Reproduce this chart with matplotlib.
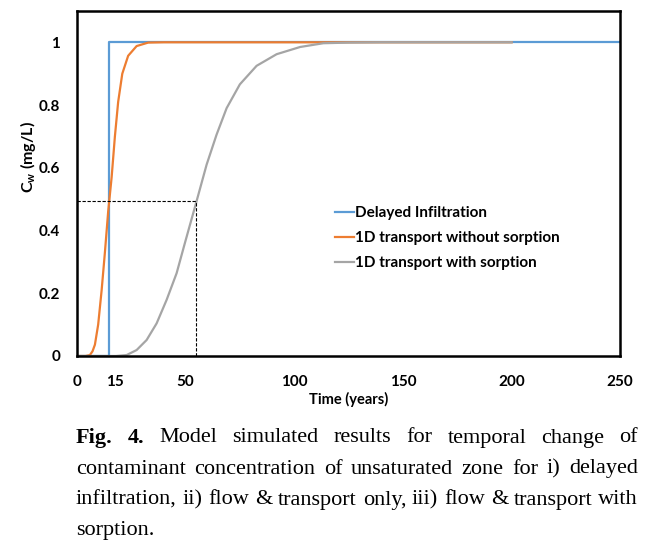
import matplotlib
matplotlib.use("Agg")
import matplotlib.pyplot as plt
import matplotlib.transforms as mtransforms

# Delayed infiltration (step at 15 years)
t_delay = [0, 15, 15, 250]
c_delay = [0, 0, 1, 1]

# 1D transport without sorption
t_nosorp = [0, 4, 6, 7.2, 8.3, 9.8, 11.4, 12.9, 14.4, 16.0, 17.5, 19.0, 20.9,
            23.6, 27.5, 32.8, 40, 200]
c_nosorp = [0, 0, 0.003, 0.015, 0.036, 0.10, 0.21, 0.33, 0.46, 0.57, 0.70,
            0.81, 0.90, 0.957, 0.988, 0.999, 1, 1]

# 1D transport with sorption
t_sorp = [0, 18, 22.9, 27.5, 32.1, 36.7, 41.3, 45.9, 49.7, 55.1, 59.7, 64.3,
          68.9, 75.0, 82.7, 91.9, 102.7, 113.4, 125, 140, 200]
c_sorp = [0, 0, 0.003, 0.019, 0.051, 0.104, 0.179, 0.264, 0.36, 0.494, 0.61,
          0.706, 0.79, 0.866, 0.925, 0.962, 0.985, 0.997, 0.999, 1, 1]

# half-concentration guide for the sorption curve
t_half = 55
c_half = 0.495

xticks = [0, 15, 50, 100, 150, 200, 250]
yticks = [0, 0.2, 0.4, 0.6, 0.8, 1]
ytick_labels = ["0", "0.2", "0.4", "0.6", "0.8", "1"]

sans = "Lato"
serif = "Liberation Serif"

fig = plt.figure(figsize=(6.57, 5.46), dpi=100)
ax = fig.add_axes([0.117, 0.348, 0.827, 0.632])

ax.plot(t_delay, c_delay, color="#5B9BD5", lw=1.6, label="Delayed Infiltration")
ax.plot(t_nosorp, c_nosorp, color="#ED7D31", lw=1.6,
        label="1D transport without sorption")
ax.plot(t_sorp, c_sorp, color="#A5A5A5", lw=1.6,
        label="1D transport with sorption")
ax.plot([0, t_half], [c_half, c_half], color="black", lw=0.8, ls=(0, (3, 1.5)))
ax.plot([t_half, t_half], [0, c_half], color="black", lw=0.8, ls=(0, (3, 1.5)))

ax.set_xlim(0, 250)
ax.set_ylim(0, 1.1)
ax.set_xticks(xticks)
ax.set_yticks(yticks)
ax.set_yticklabels(ytick_labels)
ax.tick_params(length=0, labelsize=11)
ax.tick_params(axis="y", pad=12)
ax.tick_params(axis="x", pad=14)
for lab in ax.get_xticklabels() + ax.get_yticklabels():
    lab.set_fontweight("bold")
    lab.set_family(sans)
# the "15" label sits a bit right of its tick in the original
lab15 = ax.get_xticklabels()[1]
lab15.set_transform(lab15.get_transform() +
                    mtransforms.ScaledTranslation(5 / 100, 0, fig.dpi_scale_trans))
for sp in ax.spines.values():
    sp.set_linewidth(1.8)

ax.set_xlabel("Time (years)", fontsize=10.5, fontweight="bold", family=sans,
              labelpad=2)
ax.set_ylabel(r"C$_\mathregular{w}$ (mg/L)", fontsize=11.5, fontweight="bold",
              family=sans)
ax.yaxis.set_label_coords(-0.072, 0.577)

ax.legend(loc="upper left", bbox_to_anchor=(0.499, 0.636),
          bbox_transform=fig.transFigure, frameon=False, borderpad=0,
          handlelength=1.2, handletextpad=0.1, labelspacing=0.72,
          prop={"family": sans, "weight": "bold", "size": 11})

# justified caption
fig.canvas.draw()
renderer = fig.canvas.get_renderer()
lines = [
    ["Fig.", "4.", "Model", "simulated", "results", "for", "temporal", "change", "of"],
    ["contaminant", "concentration", "of", "unsaturated", "zone", "for", "i)", "delayed"],
    ["infiltration,", "ii)", "flow", "&", "transport", "only,", "iii)", "flow", "&",
     "transport", "with"],
    ["sorption."],
]
x_left, x_right = 76, 638
y_rows = [438, 469, 500, 530]
W, H = fig.get_size_inches() * fig.dpi
for i, words in enumerate(lines):
    texts = []
    for j, w in enumerate(words):
        bold = (i == 0 and j < 2)
        t = fig.text(0, 1 - y_rows[i] / H, w, fontsize=16, family=serif,
                     fontweight="bold" if bold else "normal", va="center")
        texts.append(t)
    widths = [t.get_window_extent(renderer).width for t in texts]
    if i < len(lines) - 1 and len(words) > 1:
        gap = (x_right - x_left - sum(widths)) / (len(words) - 1)
    else:
        gap = 4
    x = x_left
    for t, w in zip(texts, widths):
        t.set_x(x / W)
        x += w + gap

fig.savefig("out.png", dpi=100)
